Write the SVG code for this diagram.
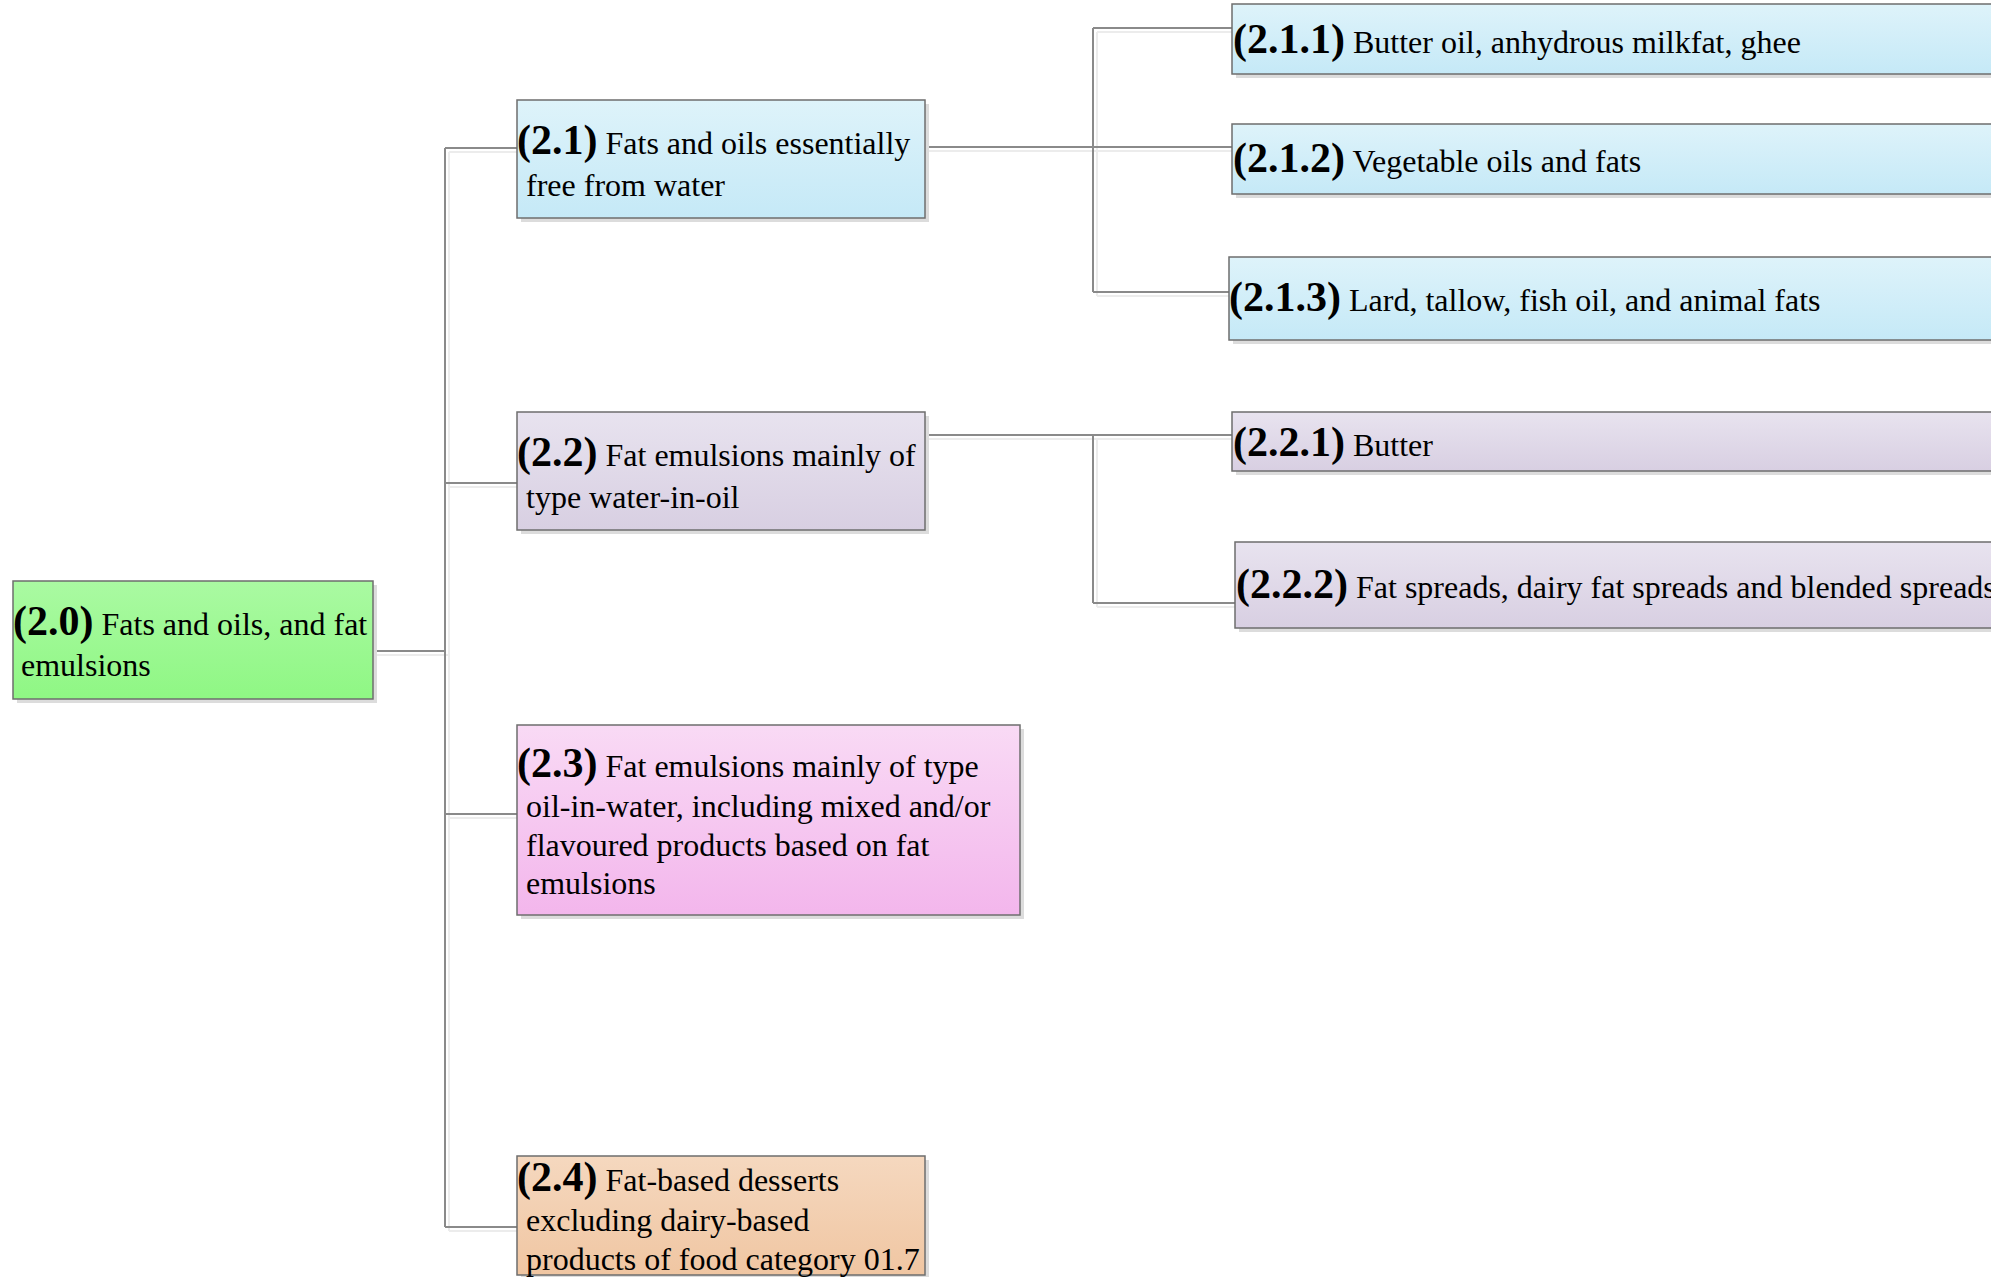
<svg xmlns="http://www.w3.org/2000/svg" width="1991" height="1277" viewBox="0 0 1991 1277">
<defs>
<linearGradient id="gGreen" x1="0" y1="0" x2="0" y2="1"><stop offset="0" stop-color="#aafaa2"/><stop offset="1" stop-color="#8ff784"/></linearGradient>
<linearGradient id="gBlue" x1="0" y1="0" x2="0" y2="1"><stop offset="0" stop-color="#def3fa"/><stop offset="1" stop-color="#c5e9f7"/></linearGradient>
<linearGradient id="gLav" x1="0" y1="0" x2="0" y2="1"><stop offset="0" stop-color="#e8e3ef"/><stop offset="1" stop-color="#d8cfe2"/></linearGradient>
<linearGradient id="gPink" x1="0" y1="0" x2="0" y2="1"><stop offset="0" stop-color="#f9daf5"/><stop offset="1" stop-color="#f3b6ec"/></linearGradient>
<linearGradient id="gPeach" x1="0" y1="0" x2="0" y2="1"><stop offset="0" stop-color="#f5d8bf"/><stop offset="1" stop-color="#f0c6a2"/></linearGradient>
</defs>
<style>
.box{stroke:#6e6e6e;stroke-width:1.5}
.sh{fill:#dcdcdc}
.t{font-family:"Liberation Serif","Times New Roman",serif;font-size:32px;fill:#000}
.b{font-weight:bold;font-size:42px}
.c{fill:none;stroke:#8a8a8a;stroke-width:2}
.cs{fill:none;stroke:#ececec;stroke-width:2}
</style>
<rect width="1991" height="1277" fill="#fff"/>
<g id="connectors">
<g transform="translate(4,4)">
<path class="cs" d="M373,651H445M445,148V1227M445,148H517M445,483H517M445,814H517M445,1227H517"/>
<path class="cs" d="M925,147H1093M1093,28V292M1093,28H1232M1093,147H1232M1093,292H1229"/>
<path class="cs" d="M925,435H1093M1093,435V603M1093,435H1232M1093,603H1235"/>
</g>
<path class="c" d="M373,651H445M445,148V1227M445,148H517M445,483H517M445,814H517M445,1227H517"/>
<path class="c" d="M925,147H1093M1093,28V292M1093,28H1232M1093,147H1232M1093,292H1229"/>
<path class="c" d="M925,435H1093M1093,435V603M1093,435H1232M1093,603H1235"/>
</g>
<g id="n2_0">
<rect class="sh" x="17" y="585" width="360" height="118"/>
<rect class="box" x="13" y="581" width="360" height="118" fill="url(#gGreen)"/>
<text class="t" x="13" y="635"><tspan class="b">(2.0)</tspan> Fats and oils, and fat</text>
<text class="t" x="21" y="676">emulsions</text>
</g>
<g id="n2_1">
<rect class="sh" x="521" y="104" width="408" height="118"/>
<rect class="box" x="517" y="100" width="408" height="118" fill="url(#gBlue)"/>
<text class="t" x="517" y="154"><tspan class="b">(2.1)</tspan> Fats and oils essentially</text>
<text class="t" x="526" y="196">free from water</text>
</g>
<g id="n2_2">
<rect class="sh" x="521" y="416" width="408" height="118"/>
<rect class="box" x="517" y="412" width="408" height="118" fill="url(#gLav)"/>
<text class="t" x="517" y="466"><tspan class="b">(2.2)</tspan> Fat emulsions mainly of</text>
<text class="t" x="526" y="508">type water-in-oil</text>
</g>
<g id="n2_3">
<rect class="sh" x="521" y="729" width="503" height="190"/>
<rect class="box" x="517" y="725" width="503" height="190" fill="url(#gPink)"/>
<text class="t" x="517" y="777"><tspan class="b">(2.3)</tspan> Fat emulsions mainly of type</text>
<text class="t" x="526" y="817">oil-in-water, including mixed and/or</text>
<text class="t" x="526" y="856">flavoured products based on fat</text>
<text class="t" x="526" y="894">emulsions</text>
</g>
<g id="n2_4">
<rect class="sh" x="521" y="1160" width="408" height="119"/>
<rect class="box" x="517" y="1156" width="408" height="119" fill="url(#gPeach)"/>
<text class="t" x="517" y="1191"><tspan class="b">(2.4)</tspan> Fat-based desserts</text>
<text class="t" x="526" y="1231">excluding dairy-based</text>
<text class="t" x="526" y="1270">products of food category 01.7</text>
</g>
<g id="n2_1_1">
<rect class="sh" x="1236" y="8" width="800" height="70"/>
<rect class="box" x="1232" y="4" width="800" height="70" fill="url(#gBlue)"/>
<text class="t" x="1233" y="53"><tspan class="b">(2.1.1)</tspan> Butter oil, anhydrous milkfat, ghee</text>
</g>
<g id="n2_1_2">
<rect class="sh" x="1236" y="128" width="800" height="70"/>
<rect class="box" x="1232" y="124" width="800" height="70" fill="url(#gBlue)"/>
<text class="t" x="1233" y="172"><tspan class="b">(2.1.2)</tspan> Vegetable oils and fats</text>
</g>
<g id="n2_1_3">
<rect class="sh" x="1233" y="261" width="800" height="83"/>
<rect class="box" x="1229" y="257" width="800" height="83" fill="url(#gBlue)"/>
<text class="t" x="1229" y="311"><tspan class="b">(2.1.3)</tspan> Lard, tallow, fish oil, and animal fats</text>
</g>
<g id="n2_2_1">
<rect class="sh" x="1236" y="416" width="800" height="59"/>
<rect class="box" x="1232" y="412" width="800" height="59" fill="url(#gLav)"/>
<text class="t" x="1233" y="456"><tspan class="b">(2.2.1)</tspan> Butter</text>
</g>
<g id="n2_2_2">
<rect class="sh" x="1239" y="546" width="800" height="86"/>
<rect class="box" x="1235" y="542" width="800" height="86" fill="url(#gLav)"/>
<text class="t" x="1236" y="598"><tspan class="b">(2.2.2)</tspan> Fat spreads, dairy fat spreads and blended spreads</text>
</g>
</svg>
